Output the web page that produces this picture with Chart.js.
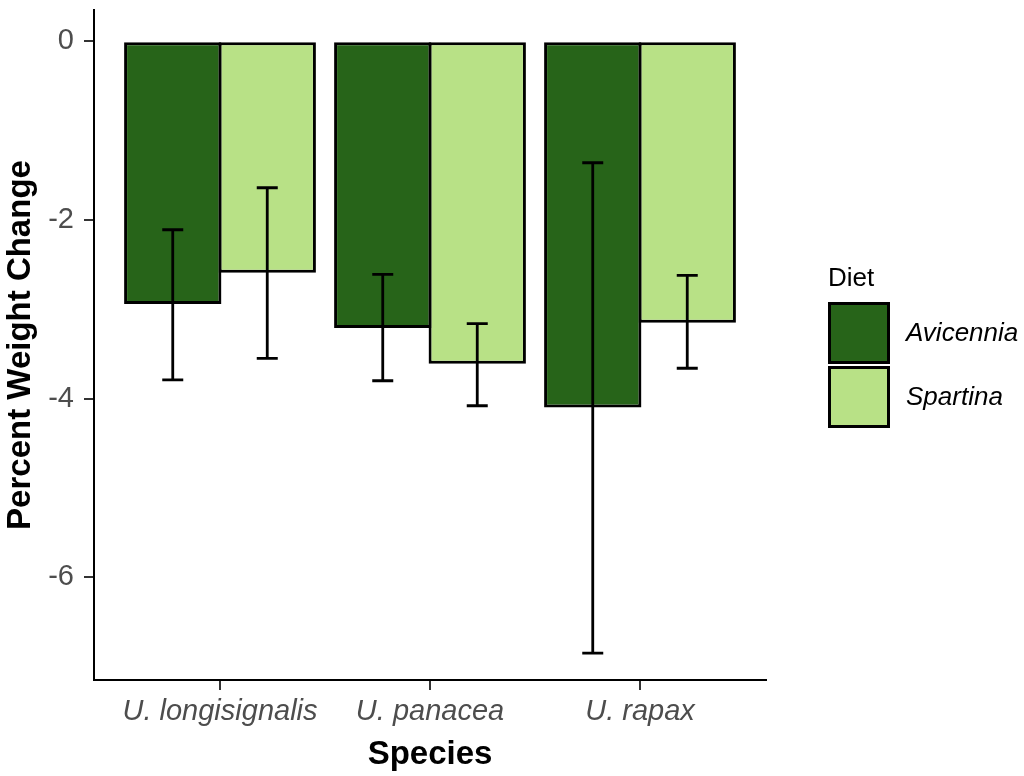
<!DOCTYPE html>
<html>
<head>
<meta charset="utf-8">
<title>Percent Weight Change by Species and Diet</title>
<script src="https://cdn.jsdelivr.net/npm/chart.js@4.4.1/dist/chart.umd.min.js"></script>
<style>
    html, body { margin: 0; padding: 0; background: #fff; }
    canvas { display: block; }
</style>
</head>
<body>
<canvas id="weightChart" width="1024" height="776"></canvas>
<script>
// Data
const species = ['U. longisignalis', 'U. panacea', 'U. rapax'];
const diets = ['Avicennia', 'Spartina'];

const avicenniaMean = [-2.94, -3.21, -4.10];
const avicenniaLow = [-3.79, -3.80, -6.85];
const avicenniaHigh = [-2.11, -2.61, -1.36];

const spartinaMean = [-2.59, -3.61, -3.15];
const spartinaLow = [-3.55, -4.08, -3.66];
const spartinaHigh = [-1.64, -3.16, -2.62];

const yTicks = [0, -2, -4, -6];

const colors = ['#276419', '#b8e186'];
const fontFamily = "'Liberation Sans', Arial, Helvetica, sans-serif";

const errorBars = [
    { low: avicenniaLow, high: avicenniaHigh },
    { low: spartinaLow, high: spartinaHigh }
];

// Error bars drawn on top of each bar
const errorBarPlugin = {
    id: 'errorBars',
    afterDatasetsDraw(chart) {
        const ctx = chart.ctx;
        const yScale = chart.scales.y;
        ctx.save();
        ctx.strokeStyle = '#000';
        ctx.lineWidth = 2.8;
        chart.data.datasets.forEach((ds, i) => {
            const meta = chart.getDatasetMeta(i);
            meta.data.forEach((bar, j) => {
                const x = bar.x;
                const yLo = yScale.getPixelForValue(errorBars[i].low[j]);
                const yHi = yScale.getPixelForValue(errorBars[i].high[j]);
                ctx.beginPath();
                ctx.moveTo(x, yLo);
                ctx.lineTo(x, yHi);
                ctx.moveTo(x - 10.5, yLo);
                ctx.lineTo(x + 10.5, yLo);
                ctx.moveTo(x - 10.5, yHi);
                ctx.lineTo(x + 10.5, yHi);
                ctx.stroke();
            });
        });
        ctx.restore();
    }
};

// ggplot-style legend at the right
const dietLegendPlugin = {
    id: 'dietLegend',
    afterDraw(chart) {
        const ctx = chart.ctx;
        ctx.save();
        ctx.fillStyle = '#000';
        ctx.textAlign = 'left';
        ctx.textBaseline = 'middle';
        ctx.font = `26px ${fontFamily}`;
        ctx.fillText('Diet', 828, 279);
        chart.data.datasets.forEach((ds, i) => {
            const top = 302 + i * 64;
            ctx.fillStyle = ds.backgroundColor;
            ctx.fillRect(829.5, top + 1.5, 59, 59);
            ctx.strokeStyle = '#000';
            ctx.lineWidth = 3;
            ctx.strokeRect(829.5, top + 1.5, 59, 59);
            ctx.fillStyle = '#000';
            ctx.font = `italic 26px ${fontFamily}`;
            ctx.fillText(ds.label, 906, top + 32);
        });
        ctx.restore();
    }
};

const ctx = document.getElementById('weightChart').getContext('2d');
new Chart(ctx, {
    type: 'bar',
    data: {
        datasets: [
            {
                label: diets[0],
                data: avicenniaMean.map((v, i) => ({ x: i, y: v })),
                backgroundColor: colors[0]
            },
            {
                label: diets[1],
                data: spartinaMean.map((v, i) => ({ x: i, y: v })),
                backgroundColor: colors[1]
            }
        ]
    },
    options: {
        responsive: false,
        animation: false,
        devicePixelRatio: 1,
        layout: { padding: { top: 10, right: 258, left: 0, bottom: 0 } },
        datasets: {
            bar: {
                borderColor: '#000',
                borderWidth: 3,
                borderSkipped: false,
                categoryPercentage: 0.9,
                barPercentage: 1.03
            }
        },
        plugins: {
            legend: { display: false },
            tooltip: { enabled: false }
        },
        scales: {
            x: {
                type: 'linear',
                min: -0.6,
                max: 2.6,
                offset: false,
                afterBuildTicks: scale => {
                    scale.ticks = species.map((s, i) => ({ value: i }));
                },
                afterFit: scale => {
                    scale.height = 96;
                    scale.paddingLeft = 0;
                    scale.paddingRight = 0;
                },
                ticks: {
                    callback: value => species[value],
                    autoSkip: false,
                    maxRotation: 0,
                    padding: 5,
                    color: '#4d4d4d',
                    font: { family: fontFamily, size: 29, style: 'italic' }
                },
                grid: {
                    offset: false,
                    drawOnChartArea: false,
                    drawTicks: true,
                    tickLength: 10,
                    color: '#333333',
                    lineWidth: 2
                },
                border: { display: true, color: '#000', width: 2 },
                title: {
                    display: true,
                    text: 'Species',
                    color: '#000',
                    padding: { top: 0, bottom: 1 },
                    font: { family: fontFamily, size: 33, weight: 'bold' }
                }
            },
            y: {
                min: -7.15,
                max: 0.35,
                afterBuildTicks: scale => {
                    scale.ticks = yTicks.map(v => ({ value: v }));
                },
                afterFit: scale => {
                    scale.width = 94;
                    scale.paddingTop = 0;
                    scale.paddingBottom = 0;
                },
                ticks: {
                    callback: value => String(value),
                    padding: 10,
                    color: '#4d4d4d',
                    font: { family: fontFamily, size: 29 }
                },
                grid: {
                    drawOnChartArea: false,
                    drawTicks: true,
                    tickLength: 10,
                    color: '#333333',
                    lineWidth: 2
                },
                border: { display: true, color: '#000', width: 2 },
                title: {
                    display: true,
                    text: 'Percent Weight Change',
                    color: '#000',
                    padding: { top: 1, bottom: 0 },
                    font: { family: fontFamily, size: 33, weight: 'bold' }
                }
            }
        }
    },
    plugins: [errorBarPlugin, dietLegendPlugin]
});
</script>
</body>
</html>
